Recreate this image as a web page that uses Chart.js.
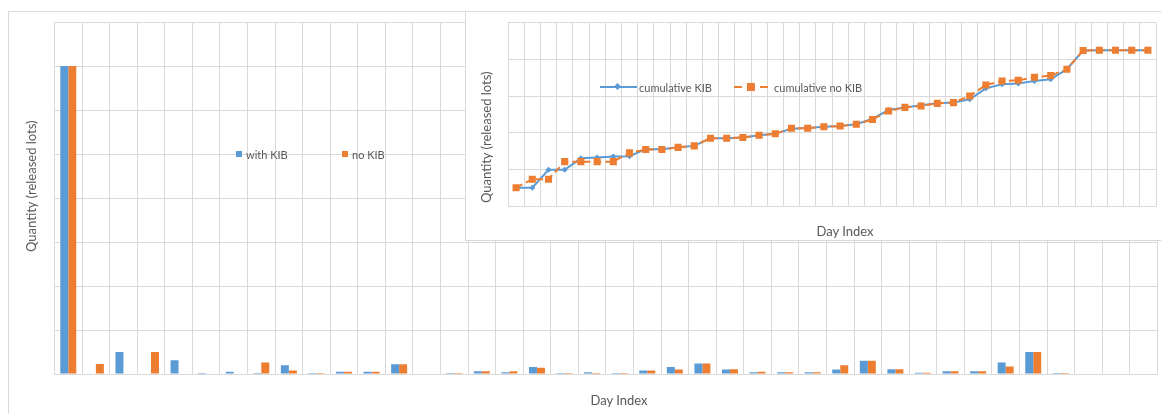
<!DOCTYPE html>
<html>
<head>
<meta charset="utf-8">
<script src="https://cdn.jsdelivr.net/npm/chart.js@4.4.1/dist/chart.umd.min.js"></script>
<style>
  html, body { margin: 0; padding: 0; background: #fff; }
  body { width: 1161px; height: 414px; overflow: hidden; position: relative;
         font-family: Lato, "Open Sans", sans-serif; color: #595959; }
  .frame { position: absolute; border: 1px solid #d9d9d9; background: #fff; }
  #mainFrame { left: 8px; top: 11px; width: 1169px; height: 420px; }
  #insetFrame { left: 465px; top: 11px; width: 710px; height: 228px; }
  .frame canvas { position: absolute; left: 0; top: 0; }
  .txt { position: absolute; white-space: nowrap; line-height: 1; }
  .title { font-size: 13px; transform: translate(-50%, -50%); }
  .vtitle { position: absolute; font-size: 13px; line-height: 14px; width: 14px; height: 180px;
            writing-mode: vertical-rl; transform: rotate(180deg); white-space: nowrap;
            display: flex; align-items: center; justify-content: center; }
  .lg { font-size: 11px; transform: translateY(-50%); }
  .sw { position: absolute; }
</style>
</head>
<body>
<div id="mainFrame" class="frame"><canvas id="mainChart" width="1169" height="420"></canvas></div>
<div class="vtitle" style="left:24px; top:96px;">Quantity (released lots)</div>
<div class="txt title" style="left:619px; top:400px;">Day Index</div>
<div class="sw" style="left:236px; top:151px; width:6px; height:6px; background:#5B9BD5;"></div>
<div class="txt lg" style="left:246px; top:154px;">with KIB</div>
<div class="sw" style="left:342px; top:151px; width:6px; height:6px; background:#ED7D31;"></div>
<div class="txt lg" style="left:352px; top:154px;">no KIB</div>

<div id="insetFrame" class="frame"><canvas id="insetChart" width="710" height="228"></canvas></div>
<div class="vtitle" style="left:479px; top:47px;">Quantity (released lots)</div>
<div class="txt title" style="left:845px; top:231px;">Day Index</div>
<!-- inset legend: line samples -->
<div class="sw" style="left:600px; top:86px; width:37px; height:2px; background:#5B9BD5;"></div>
<div class="sw" style="left:615px; top:84px; width:5px; height:5px; background:#5B9BD5; transform:rotate(45deg);"></div>
<div class="txt lg" style="left:639px; top:87px;">cumulative KIB</div>
<div class="sw" style="left:734px; top:86px; width:8px; height:2px; background:#ED7D31;"></div>
<div class="sw" style="left:747px; top:83px; width:8px; height:8px; background:#ED7D31;"></div>
<div class="sw" style="left:760px; top:86px; width:8px; height:2px; background:#ED7D31;"></div>
<div class="txt lg" style="left:774px; top:87px;">cumulative no KIB</div>

<script>
// Day index categories (labels hidden on the axis)
const dayLabels = [
  '1','2','3','4','5','6','7','8','9','10',
  '11','12','13','14','15','16','17','18','19','20',
  '21','22','23','24','25','26','27','28','29','30',
  '31','32','33','34','35','36','37','38','39','40'
];

// Released lots per day
const withKIB = [700,0,50,0,31,2,5,2,20,2,5,5,22,0,2,6,4,16,2,4,2,8,16,24,10,4,4,4,10,30,11,3,6,6,26,50,2,0,0,0];
const noKIB   = [700,23,0,50,0,0,0,26,8,2,5,5,22,0,2,6,6,14,2,2,2,8,10,24,11,5,4,4,20,30,11,3,6,6,17,50,2,0,0,0];

// Cumulative released lots
const cumKIB   = [700,700,749,749,780,782,785,786,805,805,810,814,835,835,837,843,847,861,863,866,868,873,888,912,919,925,930,932,941,971,982,984,991,996,1023,1074,1075,1075,1075,1075];
const cumNoKIB = [700,723,723,771,771,771,771,795,804,804,810,814,835,835,837,843,847,862,862,866,868,873,886,909,919,923,930,932,950,980,991,993,1001,1006,1023,1074,1075,1075,1075,1075];

// Axis ranges (no tick labels are shown)
const mainRange  = { min: 0,   max: 800,  step: 100 };
const insetRange = { min: 650, max: 1150, step: 100 };

const BLUE = '#5B9BD5';
const ORANGE = '#ED7D31';
const GRID = '#d9d9d9';

Chart.defaults.animation = false;

new Chart(document.getElementById('mainChart'), {
  type: 'bar',
  data: {
    labels: dayLabels,
    datasets: [
      { label: 'with KIB', data: withKIB, backgroundColor: BLUE, borderWidth: 0,
        categoryPercentage: 0.58, barPercentage: 1.0 },
      { label: 'no KIB', data: noKIB, backgroundColor: ORANGE, borderWidth: 0,
        categoryPercentage: 0.58, barPercentage: 1.0 }
    ]
  },
  options: {
    responsive: false,
    animation: false,
    layout: { padding: { left: 45.5, right: 20.7, top: 10, bottom: 58 } },
    plugins: { legend: { display: false }, tooltip: { enabled: false } },
    scales: {
      x: {
        grid: { color: GRID, offset: true, drawTicks: false },
        border: { color: GRID },
        ticks: { display: false }
      },
      y: {
        min: mainRange.min, max: mainRange.max,
        grid: { color: GRID, drawTicks: false },
        border: { display: false },
        ticks: { display: false, stepSize: mainRange.step }
      }
    }
  }
});

new Chart(document.getElementById('insetChart'), {
  type: 'line',
  data: {
    labels: dayLabels,
    datasets: [
      { label: 'cumulative KIB', data: cumKIB, borderColor: BLUE, backgroundColor: BLUE,
        borderWidth: 2, pointStyle: 'rectRot', pointRadius: 3, pointBorderWidth: 0,
        tension: 0, order: 1 },
      { label: 'cumulative no KIB', data: cumNoKIB, borderColor: ORANGE, backgroundColor: ORANGE,
        borderWidth: 2, borderDash: [7, 4], pointStyle: 'rect', pointRadius: 5, pointBorderWidth: 0,
        tension: 0, order: 0 }
    ]
  },
  options: {
    responsive: false,
    animation: false,
    layout: { padding: { left: 42, right: 20, top: 10.7, bottom: 34 } },
    plugins: { legend: { display: false }, tooltip: { enabled: false } },
    scales: {
      x: {
        offset: true,
        grid: { color: GRID, offset: true, drawTicks: false },
        border: { color: GRID },
        ticks: { display: false }
      },
      y: {
        min: insetRange.min, max: insetRange.max,
        grid: { color: GRID, drawTicks: false },
        border: { display: false },
        ticks: { display: false, stepSize: insetRange.step }
      }
    }
  }
});
</script>
</body>
</html>
